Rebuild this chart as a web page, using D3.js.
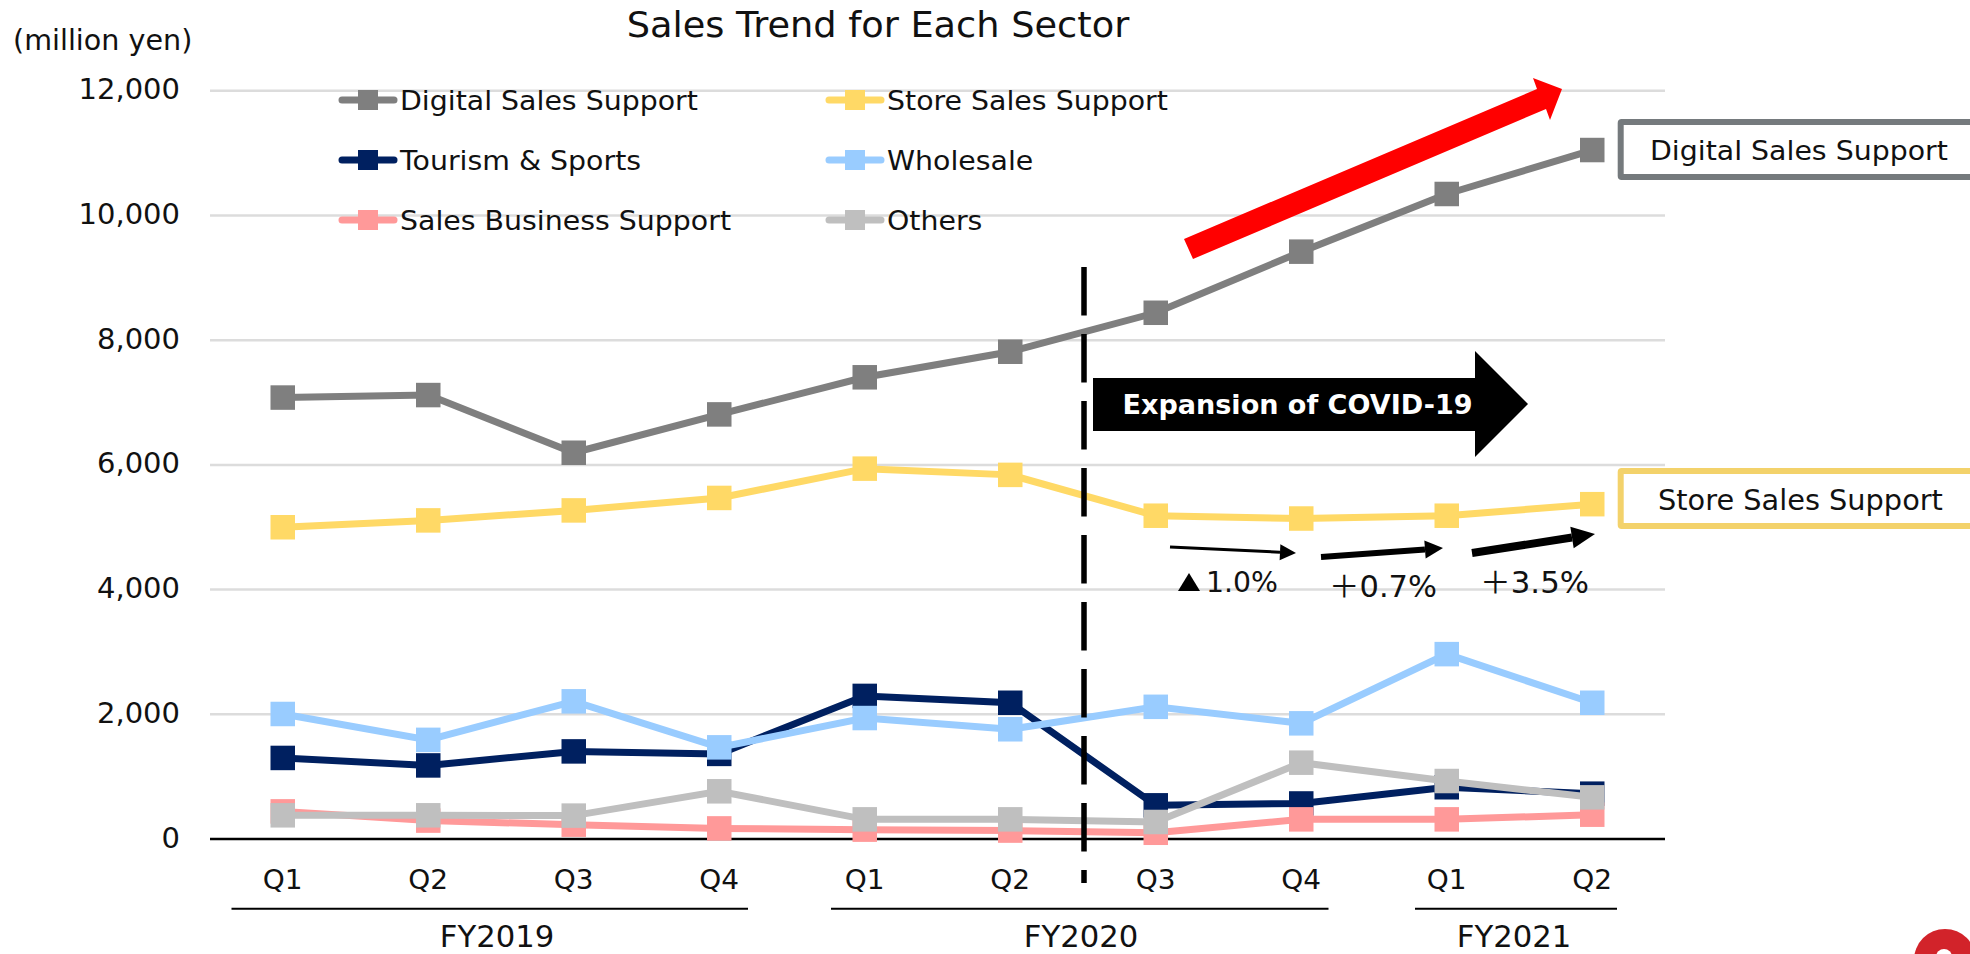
<!DOCTYPE html>
<html>
<head>
<meta charset="utf-8">
<title>Sales Trend for Each Sector</title>
<script src="https://cdn.jsdelivr.net/npm/d3@7"></script>
<style>
html,body{margin:0;padding:0;background:#fff;overflow:hidden}
svg{display:block}
text{font-family:"DejaVu Sans",Verdana,sans-serif;fill:#111}
</style>
</head>
<body>
<svg id="chart" width="1970" height="954"></svg>
<script>
// Quarterly sales per sector, million yen
const quarters = ["Q1","Q2","Q3","Q4","Q1","Q2","Q3","Q4","Q1","Q2"];
const digitalSales = [7080,7120,6195,6810,7405,7815,8440,9420,10345,11050];
const storeSales = [5000,5110,5270,5470,5940,5840,5185,5140,5185,5370];
const tourismSports = [1300,1180,1405,1365,2295,2185,540,570,830,727];
const wholesale = [2005,1590,2208,1470,1940,1760,2120,1855,2965,2185];
const salesBusiness = [443,295,230,170,150,135,100,315,315,390];
const others = [380,380,375,765,315,315,273,1224,930,668];
const yTicks = [0,2000,4000,6000,8000,10000,12000];

const seriesNames = ["Digital Sales Support","Store Sales Support","Tourism & Sports","Wholesale","Sales Business Support","Others"];
const seriesValues = [digitalSales,storeSales,tourismSports,wholesale,salesBusiness,others];
const seriesColors = ["#7f7f7f","#ffd966","#002060","#99ccff","#ff9999","#bfbfbf"];

const fiscalYears = ["FY2019","FY2020","FY2021"];
const changeLabels = ["1.0%","＋0.7%","＋3.5%"];

const svg = d3.select("#chart");
const x = d3.scaleBand().domain(d3.range(quarters.length)).range([210,1665]);
const y = d3.scaleLinear().domain([0,12000]).range([839,90.8]);
const cx = i => x(i) + x.bandwidth()/2;

// Slight horizontal widening of the glyphs for the deck's typeface proportions
const WIDEN = 1.04;
function widen(sel, k = WIDEN){
  sel.each(function(){
    const len = this.getComputedTextLength();
    d3.select(this).attr("textLength",len*k).attr("lengthAdjust","spacingAndGlyphs");
  });
}

// Horizontal grid and value axis
const yAxis = d3.axisLeft(y).tickValues(yTicks).tickSize(0).tickPadding(0).tickFormat(d3.format(","));
const yG = svg.append("g").attr("transform","translate(180,0)").call(yAxis);
yG.select(".domain").remove();
yG.selectAll("text").attr("font-size",27.9).attr("font-family","DejaVu Sans").attr("fill","#111").attr("dy","0.29em").call(widen);

svg.append("g").selectAll("line").data(yTicks).join("line")
  .attr("x1",210).attr("x2",1665)
  .attr("y1",d=>y(d)).attr("y2",d=>y(d))
  .attr("stroke",d=>d===0?"#000":"#dcdcdc")
  .attr("stroke-width",2.5);

// Category axis
const xAxis = d3.axisBottom(x).tickSize(0).tickPadding(0).tickFormat(i=>quarters[i]);
const xG = svg.append("g").attr("transform","translate(0,867)").call(xAxis);
xG.select(".domain").remove();
xG.selectAll("text").attr("font-size",26.9).attr("font-family","DejaVu Sans").attr("fill","#111").attr("dy","22").attr("y",0).call(widen);

// Fiscal-year brackets
const yearRules = [[231.5,748],[831,1328.5],[1415,1617]];
const yearCenters = [497,1081,1514];
svg.append("g").selectAll("line").data(yearRules).join("line")
  .attr("x1",d=>d[0]).attr("x2",d=>d[1]).attr("y1",908.7).attr("y2",908.7)
  .attr("stroke","#000").attr("stroke-width",2);
svg.append("g").selectAll("text").data(fiscalYears).join("text")
  .attr("x",(d,i)=>yearCenters[i]).attr("y",947).attr("text-anchor","middle")
  .attr("font-size",29.5).text(d=>d).call(widen);

// Series lines and square markers
const lineGen = d3.line().x((d,i)=>cx(i)).y(d=>y(d));
const MARK = 24.5;
const groups = svg.append("g").selectAll("g").data(seriesValues).join("g");
groups.append("path").attr("d",d=>lineGen(d)).attr("fill","none")
  .attr("stroke",(d,i)=>seriesColors[i]).attr("stroke-width",7);
groups.each(function(vals,s){
  d3.select(this).selectAll("rect").data(vals).join("rect")
    .attr("x",(d,i)=>cx(i)-MARK/2).attr("y",d=>y(d)-MARK/2)
    .attr("width",MARK).attr("height",MARK).attr("fill",seriesColors[s]);
});

// Legend, two columns by three rows
const legendCols = [368,855];
const legendRows = [100,160,220];
const legend = svg.append("g").selectAll("g").data(seriesNames).join("g")
  .attr("transform",(d,i)=>`translate(${legendCols[i%2]},${legendRows[Math.floor(i/2)]})`);
legend.append("line").attr("x1",-26).attr("x2",26)
  .attr("stroke",(d,i)=>seriesColors[i]).attr("stroke-width",7).attr("stroke-linecap","round");
legend.append("rect").attr("x",-10).attr("y",-10).attr("width",20).attr("height",20)
  .attr("fill",(d,i)=>seriesColors[i]);
legend.append("text").attr("x",32).attr("y",10).attr("font-size",27.3).text(d=>d).call(widen);

// Title and unit
svg.append("text").attr("x",878).attr("y",37).attr("text-anchor","middle").attr("font-size",35.3).text("Sales Trend for Each Sector").call(widen);
svg.append("text").attr("x",13).attr("y",50).attr("font-size",27.5).text("(million yen)").call(widen);

// Divider marking the start of the pandemic period
svg.append("line").attr("x1",1084).attr("x2",1084).attr("y1",267).attr("y2",883)
  .attr("stroke","#000").attr("stroke-width",5.5).attr("stroke-dasharray","48.5 18.5");

// Red growth arrow
svg.append("polygon").attr("points","1184,239 1537,89 1533,78 1562,89 1550,120 1546,109 1193,259").attr("fill","#ff0000");

// Black banner arrow
svg.append("polygon").attr("points","1093,378 1475,378 1475,351 1528,404 1475,457 1475,431 1093,431").attr("fill","#000");
svg.append("text").attr("x",1122.5).attr("y",414).attr("font-size",26).attr("font-weight","bold")
  .style("fill","#fff").text("Expansion of COVID-19").call(widen);

// Callout boxes at the right edge
const callouts = [
  {name:seriesNames[0],top:122,color:"#757a7d",tx:1650,ty:160,size:27.3},
  {name:seriesNames[1],top:471,color:"#f3d26b",tx:1658,ty:509.5,size:27.7}
];
const callG = svg.append("g").selectAll("g").data(callouts).join("g");
callG.append("rect").attr("x",1620.7).attr("y",d=>d.top).attr("width",400).attr("height",55)
  .attr("rx",1).attr("fill","#fff").attr("stroke",d=>d.color).attr("stroke-width",6);
callG.append("text").attr("x",d=>d.tx).attr("y",d=>d.ty).attr("font-size",d=>d.size).text(d=>d.name).call(widen);

// Small quarter-on-quarter arrows with their percentages
const trendArrows = [
  {from:[1170,547],back:[1280,552.2],tip:[1296,553],w:3,h:8},
  {from:[1321,557],back:[1425,549.4],tip:[1443,548],w:6,h:9},
  {from:[1472,553],back:[1572,537.5],tip:[1595,534],w:8,h:11}
];
svg.append("g").selectAll("g").data(trendArrows).join("g").each(function(a){
  const g = d3.select(this);
  const dx=a.tip[0]-a.from[0], dy=a.tip[1]-a.from[1], L=Math.hypot(dx,dy), nx=-dy/L, ny=dx/L;
  g.append("line").attr("x1",a.from[0]).attr("y1",a.from[1]).attr("x2",a.back[0]).attr("y2",a.back[1])
    .attr("stroke","#000").attr("stroke-width",a.w);
  g.append("polygon").attr("fill","#000").attr("points",[
    [a.back[0]+nx*a.h,a.back[1]+ny*a.h],a.tip,[a.back[0]-nx*a.h,a.back[1]-ny*a.h]].map(p=>p.join(",")).join(" "));
});
svg.append("polygon").attr("points","1178,591 1200,591 1189,573").attr("fill","#000");
const changePos = [[1206,592,28,72],[1329,597,30,108],[1480,593,30,109]];
const changeText = svg.append("g").selectAll("text").data(changeLabels).join("text")
  .attr("x",(d,i)=>changePos[i][0]).attr("y",(d,i)=>changePos[i][1])
  .attr("font-size",(d,i)=>changePos[i][2])
  .attr("textLength",(d,i)=>changePos[i][3]).attr("lengthAdjust","spacingAndGlyphs");
changeText.each(function(d){
  // The full-width plus sign comes from the CJK face
  const t = d3.select(this);
  if (d.startsWith("＋")) {
    t.append("tspan").attr("font-family","Noto Sans CJK JP").text("＋");
    t.append("tspan").text(d.slice(1));
  } else t.text(d);
});

// Page badge clipped by the bottom edge
svg.append("circle").attr("cx",1945).attr("cy",960).attr("r",31).attr("fill","#d2232a");
svg.append("circle").attr("cx",1944).attr("cy",957).attr("r",8).attr("fill","#fff");
</script>
</body>
</html>
